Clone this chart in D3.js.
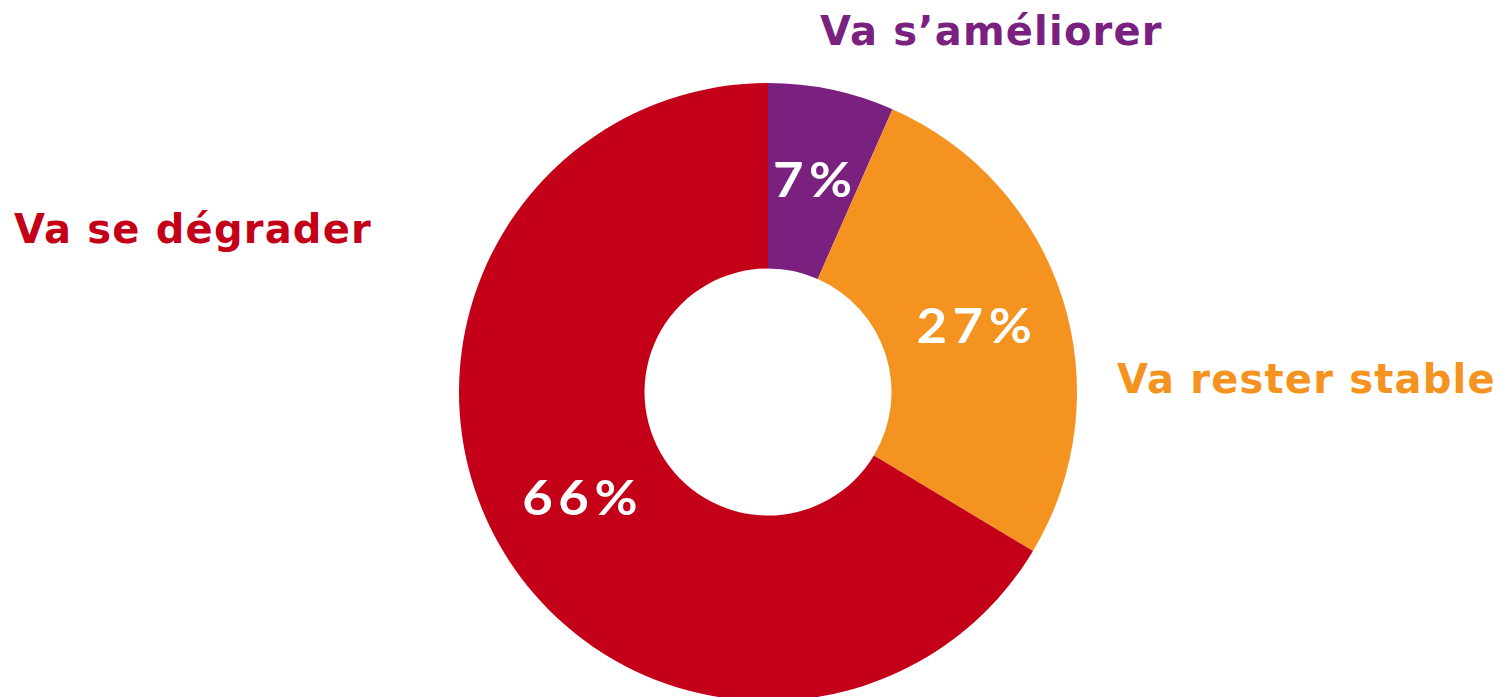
<!DOCTYPE html>
<html>
<head>
<meta charset="utf-8">
<script src="https://cdn.jsdelivr.net/npm/d3@7"></script>
<style>
  html, body { margin: 0; padding: 0; background: #fff; overflow: hidden; }
  .cat { font-family: "DejaVu Sans", Verdana, sans-serif; font-weight: bold; font-size: 40px; letter-spacing: 1.2px; }
  .pct { font-family: Lato, "Open Sans", sans-serif; font-weight: bold; font-size: 47px; letter-spacing: 5px; fill: #fff; }
</style>
</head>
<body>
<div id="chart"></div>
<script>
const categories = ['Va s\u2019améliorer', 'Va rester stable', 'Va se dégrader']
const values = [6.6, 27.0, 66.4]
const pctLabels = ['7%', '27%', '66%']
const colors = ['#7a2180', '#f59320', '#c30018']

const width = 1501, height = 697
const cx = 768, cy = 392
const outerR = 309, innerR = 123.5

const svg = d3.select('#chart').append('svg')
  .attr('width', width)
  .attr('height', height)

const g = svg.append('g')
  .attr('transform', 'translate(' + cx + ',' + cy + ')')

const pie = d3.pie().sort(null).value(d => d)
const arc = d3.arc().innerRadius(innerR).outerRadius(outerR)

const arcs = pie(values)

g.selectAll('path')
  .data(arcs)
  .join('path')
  .attr('d', arc)
  .attr('fill', (d, i) => colors[i])

// percent labels, stretched a little to match the wide geometric digits
g.selectAll('text.pct')
  .data(arcs)
  .join('text')
  .attr('class', 'pct')
  .attr('text-anchor', 'middle')
  .attr('dx', 2.5)
  .attr('dy', '0.36em')
  .attr('transform', d => 'translate(' + arc.centroid(d) + ') scale(1.12,1)')
  .text((d, i) => pctLabels[i])

// category labels sit outside the ring
const catPos = [
  { x: 820, y: 45 },
  { x: 1117, y: 393 },
  { x: 14, y: 243 }
]

svg.selectAll('text.cat')
  .data(categories)
  .join('text')
  .attr('class', 'cat')
  .attr('x', (d, i) => catPos[i].x)
  .attr('y', (d, i) => catPos[i].y)
  .attr('fill', (d, i) => colors[i])
  .text(d => d)
</script>
</body>
</html>
